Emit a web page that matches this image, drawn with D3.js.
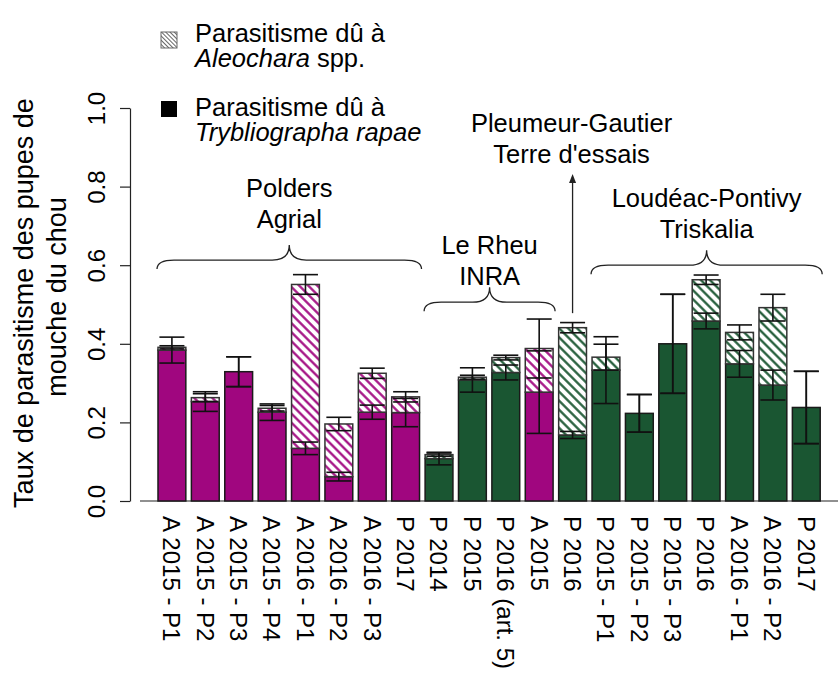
<!DOCTYPE html>
<html>
<head>
<meta charset="utf-8">
<script src="https://cdn.jsdelivr.net/npm/d3@7"></script>
<style>
  body { margin: 0; background: #fff; }
  text { font-family: "Liberation Sans", Arial, sans-serif; fill: #000; }
</style>
</head>
<body>
<div id="chart"></div>
<script>
// bar labels, left to right
const categories = ["A 2015 - P1", "A 2015 - P2", "A 2015 - P3", "A 2015 - P4", "A 2016 - P1", "A 2016 - P2",
  "A 2016 - P3", "P 2017", "P 2014", "P 2015", "P 2016 (art. 5)", "A 2015", "P 2016",
  "P 2015 - P1", "P 2015 - P2", "P 2015 - P3", "P 2016", "A 2016 - P1", "A 2016 - P2", "P 2017"];
// m = magenta, g = green
const barKind = ["m", "m", "m", "m", "m", "m", "m", "m", "g", "g", "g", "m", "g", "g", "g", "g", "g", "g", "g", "g"];
// parasitism by Trybliographa rapae (solid part)
const trybliographa = [0.384, 0.253, 0.329, 0.226, 0.134, 0.062, 0.226, 0.225, 0.108, 0.308,
  0.327, 0.277, 0.168, 0.333, 0.223, 0.400, 0.458, 0.349, 0.295, 0.238];
// parasitism by Aleochara spp. (hatched part, stacked on top)
const aleochara = [0.007, 0.010, 0, 0.010, 0.417, 0.134, 0.099, 0.040, 0.010, 0.007,
  0.038, 0.111, 0.273, 0.033, 0, 0, 0.105, 0.080, 0.197, 0];
// standard errors
const seTrybliographa = [0.033, 0.025, 0.038, 0.021, 0.016, 0.011, 0.018, 0.036, 0.016, 0.031,
  0.019, 0.105, 0.009, 0.085, 0.048, 0.126, 0.020, 0.034, 0.038, 0.092];
const seTotal = [0.004, 0.010, 0.038, 0.007, 0.025, 0.017, 0.013, 0.013, 0.004, 0.005,
  0.006, 0.075, 0.013, 0.033, 0.048, 0.126, 0.012, 0.019, 0.034, 0.092];
const yTicks = [0, 0.2, 0.4, 0.6, 0.8, 1.0];

// site annotations
const siteNames = [["Polders", "Agrial"], ["Le Rheu", "INRA"], ["Loudéac-Pontivy", "Triskalia"]];
const siteFirst = [0, 8, 13];
const siteLast = [7, 11, 19];
const braceLevel = [0.613, 0.506, 0.600];
const siteLabelLevel = [0.695, 0.550, 0.669];
const arrowSite = ["Pleumeur-Gautier", "Terre d'essais"];
const arrowBar = 12;
const arrowFrom = 0.478, arrowTo = 0.832, arrowLabelLevel = 0.860;

const width = 838, height = 677;
const colour = { m: "#a0067f", g: "#1a5632" };

const svg = d3.select("#chart")
  .append("svg")
  .attr("width", width)
  .attr("height", height);

const defs = svg.append("defs");
Object.entries(colour).forEach(([k, c]) => {
  defs.append("pattern")
    .attr("id", "hatch-" + k)
    .attr("patternUnits", "userSpaceOnUse")
    .attr("width", 6.4).attr("height", 6.4)
    .attr("patternTransform", "rotate(-45)")
    .append("line")
    .attr("x1", 3.2).attr("y1", 0).attr("x2", 3.2).attr("y2", 6.4)
    .attr("stroke", c).attr("stroke-width", 2.2);
});
defs.append("pattern")
  .attr("id", "hatch-legend")
  .attr("patternUnits", "userSpaceOnUse")
  .attr("width", 3).attr("height", 3)
  .attr("patternTransform", "rotate(-45)")
  .append("line")
  .attr("x1", 1.5).attr("y1", 0).attr("x2", 1.5).attr("y2", 3)
  .attr("stroke", "#555").attr("stroke-width", 0.9);

const x = d3.scaleBand()
  .domain(d3.range(categories.length))
  .range([158, 820.2])
  .paddingInner(0.2 / 1.2)
  .paddingOuter(0);
const y = d3.scaleLinear().domain([0, 1]).range([501, 108]);
const bw = x.bandwidth();

const bars = categories.map((c, i) => ({
  i, label: c, kind: barKind[i],
  t: trybliographa[i], a: aleochara[i],
  seT: seTrybliographa[i], seTot: seTotal[i]
}));

// baseline
svg.append("line")
  .attr("x1", 140).attr("x2", width)
  .attr("y1", y(0)).attr("y2", y(0))
  .attr("stroke", "#222").attr("stroke-width", 1.2);

// y axis
const yAxis = svg.append("g")
  .attr("transform", "translate(130,0)")
  .call(d3.axisLeft(y).tickValues(yTicks).tickFormat(d3.format(".1f")).tickSize(10).tickSizeOuter(0));
yAxis.select(".domain").attr("stroke", "#222").attr("stroke-width", 1.2);
yAxis.selectAll(".tick line").attr("stroke", "#222").attr("stroke-width", 1.2);
yAxis.selectAll(".tick text")
  .attr("x", 0).attr("dy", 0)
  .attr("text-anchor", "middle")
  .attr("transform", "translate(-25,0) rotate(-90)")
  .style("font-size", "24px")
  .style("font-family", "'Liberation Sans', Arial, sans-serif")
  .attr("fill", "#000");

// axis title, two lines
svg.append("text")
  .attr("text-anchor", "middle")
  .style("font-size", "27px")
  .attr("transform", "translate(33,303) rotate(-90)")
  .text("Taux de parasitisme des pupes de");
svg.append("text")
  .attr("text-anchor", "middle")
  .style("font-size", "27px")
  .attr("transform", "translate(66,297) rotate(-90)")
  .text("mouche du chou");

// solid part
svg.append("g").selectAll("rect")
  .data(bars)
  .join("rect")
  .attr("x", d => x(d.i))
  .attr("width", bw)
  .attr("y", d => y(d.t))
  .attr("height", d => y(0) - y(d.t))
  .attr("fill", d => colour[d.kind])
  .attr("stroke", "#1a1a1a")
  .attr("stroke-width", 1.5);

// hatched part
const hatched = svg.append("g").selectAll("g")
  .data(bars.filter(d => d.a > 0))
  .join("g");
hatched.append("rect")
  .attr("x", d => x(d.i))
  .attr("width", bw)
  .attr("y", d => y(d.t + d.a))
  .attr("height", d => y(d.t) - y(d.t + d.a))
  .attr("fill", "#fff");
hatched.append("rect")
  .attr("x", d => x(d.i))
  .attr("width", bw)
  .attr("y", d => y(d.t + d.a))
  .attr("height", d => y(d.t) - y(d.t + d.a))
  .attr("fill", d => `url(#hatch-${d.kind})`)
  .attr("stroke", "#333")
  .attr("stroke-width", 1.5);

// error bars
function errorBar(g, cx, v, se) {
  const cw = 12.5;
  g.append("line").attr("x1", cx).attr("x2", cx).attr("y1", y(v - se)).attr("y2", y(v + se));
  g.append("line").attr("x1", cx - cw).attr("x2", cx + cw).attr("y1", y(v + se)).attr("y2", y(v + se));
  g.append("line").attr("x1", cx - cw).attr("x2", cx + cw).attr("y1", y(v - se)).attr("y2", y(v - se));
}
const errG = svg.append("g").attr("stroke", "#111").attr("stroke-width", 1.6);
bars.forEach(d => {
  const cx = x(d.i) + bw / 2;
  errorBar(errG, cx, d.t, d.seT);
  errorBar(errG, cx, d.t + d.a, d.seTot);
});

// x labels
svg.append("g").selectAll("text")
  .data(bars)
  .join("text")
  .attr("transform", d => `translate(${x(d.i) + bw / 2},516) rotate(90)`)
  .attr("dy", "0.36em")
  .style("font-size", "24px")
  .text(d => d.label);

// braces and site labels
function bracePath(x0, x1, yH) {
  const r = 17, h = 9, p = 15, xm = (x0 + x1) / 2;
  return `M${x0},${yH + h} Q${x0},${yH} ${x0 + r},${yH} L${xm - r},${yH} Q${xm},${yH} ${xm},${yH - p}` +
    ` Q${xm},${yH} ${xm + r},${yH} L${x1 - r},${yH} Q${x1},${yH} ${x1},${yH + h}`;
}
siteNames.forEach((lines, k) => {
  const x0 = x(siteFirst[k]) - 1, x1 = x(siteLast[k]) + bw + 2;
  svg.append("path")
    .attr("d", bracePath(x0, x1, y(braceLevel[k])))
    .attr("fill", "none")
    .attr("stroke", "#222")
    .attr("stroke-width", 1.3);
  const cx = (x0 + x1) / 2;
  lines.forEach((s, j) => {
    svg.append("text")
      .attr("x", cx)
      .attr("y", y(siteLabelLevel[k]) - (lines.length - 1 - j) * 31)
      .attr("text-anchor", "middle")
      .style("font-size", "25.5px")
      .text(s);
  });
});

// arrow to Pleumeur-Gautier
const ax = x(arrowBar) + bw / 2;
svg.append("line")
  .attr("x1", ax).attr("x2", ax)
  .attr("y1", y(arrowFrom)).attr("y2", y(arrowTo) + 6)
  .attr("stroke", "#222").attr("stroke-width", 1.3);
svg.append("path")
  .attr("d", `M${ax},${y(arrowTo)} L${ax - 3.5},${y(arrowTo) + 9} L${ax + 3.5},${y(arrowTo) + 9} Z`)
  .attr("fill", "#222");
arrowSite.forEach((s, j) => {
  svg.append("text")
    .attr("x", ax - 1)
    .attr("y", y(arrowLabelLevel) - (arrowSite.length - 1 - j) * 31)
    .attr("text-anchor", "middle")
    .style("font-size", "25.5px")
    .text(s);
});

// legend
const legend = svg.append("g");
legend.append("rect")
  .attr("x", 161).attr("y", 32).attr("width", 16).attr("height", 16)
  .attr("fill", "url(#hatch-legend)")
  .attr("stroke", "#666").attr("stroke-width", 1);
legend.append("rect")
  .attr("x", 161).attr("y", 101).attr("width", 16).attr("height", 16)
  .attr("fill", "#000");
const lt = (yy, parts) => {
  const t = legend.append("text").attr("x", 195).attr("y", yy).style("font-size", "25.5px");
  parts.forEach(([s, it]) => t.append("tspan").style("font-style", it ? "italic" : "normal").text(s));
};
lt(42, [["Parasitisme dû à", false]]);
lt(67, [["Aleochara", true], [" spp.", false]]);
lt(116, [["Parasitisme dû à", false]]);
lt(141, [["Trybliographa rapae", true]]);
</script>
</body>
</html>
